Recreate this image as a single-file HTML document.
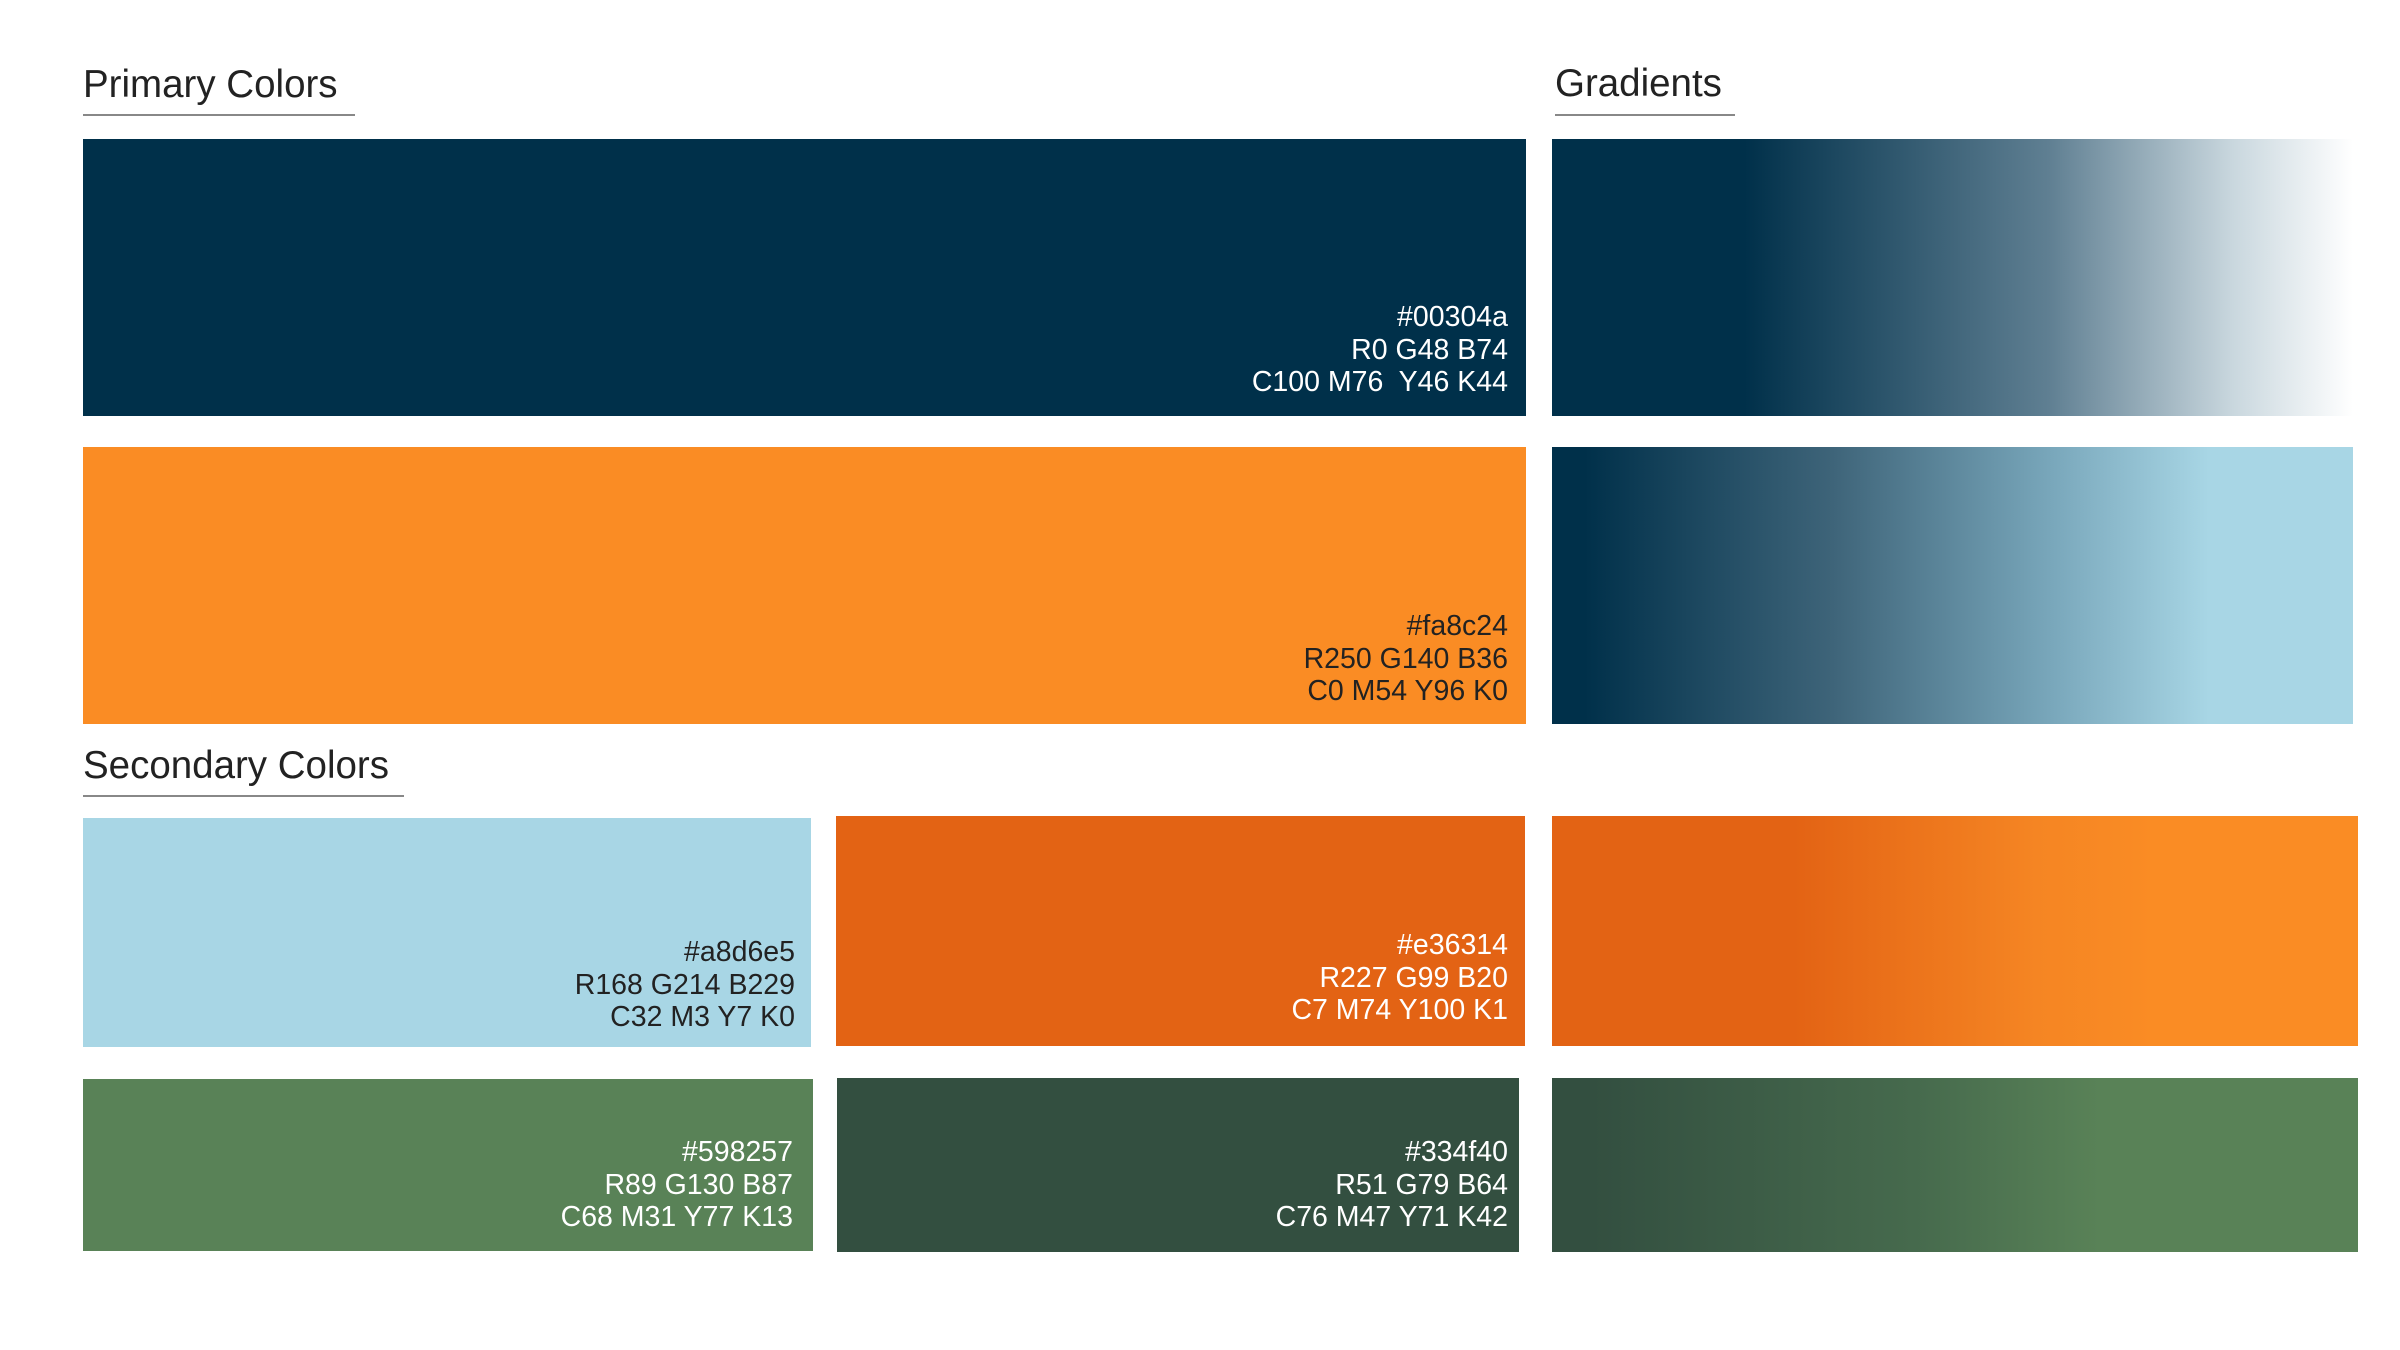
<!DOCTYPE html>
<html><head><meta charset="utf-8"><style>
*{margin:0;padding:0}
body{width:2400px;height:1350px;background:#fff;position:relative;overflow:hidden;font-family:"Liberation Sans",sans-serif}
.b{position:absolute}
.h{position:absolute;font-size:38.5px;color:#222;line-height:44px}
.u{position:absolute;height:2px;background:#888}
.t{position:absolute;font-size:28.5px;line-height:32.5px;text-align:right;white-space:pre}
.w{color:#fff}.d{color:#222}
</style></head><body>
<div class="h" style="left:83px;top:63px">Primary Colors</div>
<div class="u" style="left:83px;top:114px;width:272px"></div>
<div class="h" style="left:1555px;top:62px">Gradients</div>
<div class="u" style="left:1555px;top:114px;width:180px"></div>
<div class="h" style="left:83px;top:744px">Secondary Colors</div>
<div class="u" style="left:83px;top:795px;width:321px"></div>

<div class="b" style="left:83px;top:139px;width:1443px;height:277px;background:#00304a"></div>
<div class="t w" style="right:892px;top:301px">#00304a
R0 G48 B74
C100 M76  Y46 K44</div>

<div class="b" style="left:83px;top:447px;width:1443px;height:277px;background:#fa8c24"></div>
<div class="t d" style="right:892px;top:610px">#fa8c24
R250 G140 B36
C0 M54 Y96 K0</div>

<div class="b" style="left:1552px;top:139px;width:801px;height:277px;background:linear-gradient(90deg,#00304a 0%,#00304a 24%,#5f7f92 62%,#c9d7de 85%,#fff 100%)"></div>
<div class="b" style="left:1552px;top:447px;width:801px;height:277px;background:linear-gradient(90deg,#00304a 4%,#3e6479 35%,#78a6ba 62%,#a8d6e5 82%,#a8d6e5 100%)"></div>

<div class="b" style="left:83px;top:818px;width:728px;height:229px;background:#a8d6e5"></div>
<div class="t d" style="right:1605px;top:936px">#a8d6e5
R168 G214 B229
C32 M3 Y7 K0</div>

<div class="b" style="left:836px;top:816px;width:689px;height:230px;background:#e36314"></div>
<div class="t w" style="right:892px;top:929px">#e36314
R227 G99 B20
C7 M74 Y100 K1</div>

<div class="b" style="left:1552px;top:816px;width:806px;height:230px;background:linear-gradient(90deg,#e36314 0%,#e36314 30%,#f58523 60%,#fa8c24 75%,#fa8c24 100%)"></div>

<div class="b" style="left:83px;top:1079px;width:730px;height:172px;background:#598257"></div>
<div class="t w" style="right:1607px;top:1136px">#598257
R89 G130 B87
C68 M31 Y77 K13</div>

<div class="b" style="left:837px;top:1078px;width:682px;height:174px;background:#334f40"></div>
<div class="t w" style="right:892px;top:1136px">#334f40
R51 G79 B64
C76 M47 Y71 K42</div>

<div class="b" style="left:1552px;top:1078px;width:806px;height:174px;background:linear-gradient(90deg,#334f40 0%,#334f40 5%,#466a4d 45%,#598257 68%,#598257 100%)"></div>
</body></html>
